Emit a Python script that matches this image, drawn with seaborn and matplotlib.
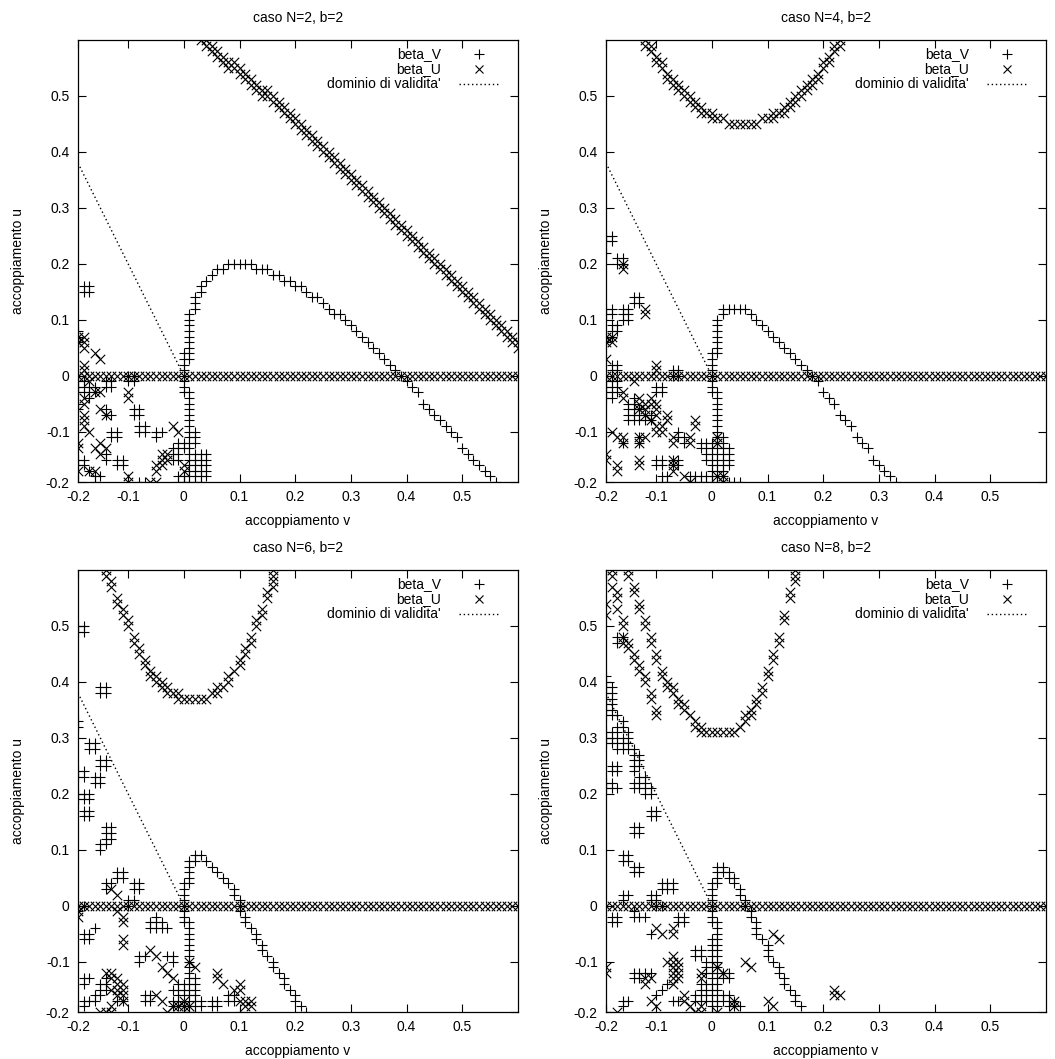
import matplotlib
matplotlib.use("Agg")
import matplotlib.pyplot as plt
import seaborn as sns
import pandas as pd

# ---------------- data (v = accoppiamento v, u = accoppiamento u) ----------------
TITLES = ["caso N=2, b=2", "caso N=4, b=2", "caso N=6, b=2", "caso N=8, b=2"]
XTICKS = [-0.19, -0.1, 0.0, 0.1, 0.2, 0.3, 0.4, 0.5]
TICKLABELS = ["-0.2", "-0.1", "0", "0.1", "0.2", "0.3", "0.4", "0.5"]
DOMAIN_V = [-0.19, -0.005]
DOMAIN_U = [0.38, 0.01]

ZERO_V = [-0.19, -0.18, -0.17, -0.16, -0.15, -0.14, -0.13, -0.12, -0.11, -0.10,
          -0.09, -0.08, -0.07, -0.06, -0.05, -0.04, -0.03, -0.02, -0.01, 0.00,
          0.01, 0.02, 0.03, 0.04, 0.05, 0.06, 0.07, 0.08, 0.09, 0.10,
          0.11, 0.12, 0.13, 0.14, 0.15, 0.16, 0.17, 0.18, 0.19, 0.20,
          0.21, 0.22, 0.23, 0.24, 0.25, 0.26, 0.27, 0.28, 0.29, 0.30,
          0.31, 0.32, 0.33, 0.34, 0.35, 0.36, 0.37, 0.38, 0.39, 0.40,
          0.41, 0.42, 0.43, 0.44, 0.45, 0.46, 0.47, 0.48, 0.49, 0.50,
          0.51, 0.52, 0.53, 0.54, 0.55, 0.56, 0.57, 0.58, 0.59, 0.60]

# ---- panel 1 (N=2) ----
P1_V = {
    -0.19: [0.08, 0.07, 0.06, 0.00, -0.01, -0.02, -0.03, -0.05, -0.06, -0.15, -0.16],
    -0.18: [0.16, 0.15, -0.01, -0.02, -0.03, -0.15, -0.16],
    -0.17: [0.16, 0.15, -0.02, -0.03, -0.04, -0.17],
    -0.16: [-0.02, -0.03, -0.18, -0.19],
    -0.15: [-0.18],
    -0.14: [-0.01, -0.02, -0.06, -0.07, -0.14, -0.15],
    -0.13: [-0.01, -0.02, -0.07, -0.10, -0.11],
    -0.12: [-0.10, -0.11, -0.15, -0.16],
    -0.11: [-0.15, -0.16],
    -0.10: [0.00, -0.01],
    -0.09: [0.00, -0.01, -0.06, -0.07],
    -0.08: [-0.06, -0.07, -0.09, -0.10, -0.19],
    -0.07: [-0.09, -0.10, -0.19],
    -0.05: [-0.10, -0.11],
    -0.04: [-0.10],
    -0.02: [-0.13, -0.14, -0.15],
    -0.01: [-0.12, -0.13, -0.14, -0.15, -0.18, -0.19],
    0.00: [0.04, 0.03, 0.02, 0.01, 0.00, -0.01, -0.02, -0.03, -0.12, -0.13, -0.18, -0.19],
    0.01: [0.11, 0.10, 0.09, 0.08, 0.07, 0.06, 0.05, 0.04, 0.03, -0.03, -0.04, -0.05,
           -0.06, -0.07, -0.08, -0.09, -0.10, -0.11, -0.12, -0.13, -0.14, -0.15,
           -0.16, -0.17, -0.18, -0.19],
    0.02: [0.14, 0.13, 0.12, -0.10, -0.11, -0.12, -0.14, -0.15, -0.16, -0.17, -0.18, -0.19],
    0.03: [0.16, 0.15, -0.14, -0.15, -0.16, -0.17, -0.18, -0.19],
    0.04: [0.17, -0.14, -0.15, -0.16, -0.17, -0.18],
    0.05: [0.18], 0.06: [0.19], 0.07: [0.19], 0.08: [0.20], 0.09: [0.20],
    0.10: [0.20], 0.11: [0.20], 0.12: [0.20], 0.13: [0.19], 0.14: [0.19],
    0.15: [0.19], 0.16: [0.18], 0.17: [0.18], 0.18: [0.17], 0.19: [0.17],
    0.20: [0.16], 0.21: [0.16], 0.22: [0.15], 0.23: [0.14], 0.24: [0.14],
    0.25: [0.13], 0.26: [0.12], 0.27: [0.11], 0.28: [0.11], 0.29: [0.10],
    0.30: [0.09], 0.31: [0.08], 0.32: [0.07], 0.33: [0.06], 0.34: [0.05],
    0.35: [0.04], 0.36: [0.03], 0.37: [0.02], 0.38: [0.01], 0.39: [0.00],
    0.40: [-0.01], 0.41: [-0.02], 0.42: [-0.03], 0.43: [-0.05], 0.44: [-0.06],
    0.45: [-0.07], 0.46: [-0.08], 0.47: [-0.09], 0.48: [-0.10], 0.49: [-0.11],
    0.50: [-0.13], 0.51: [-0.14], 0.52: [-0.15], 0.53: [-0.16], 0.54: [-0.17],
    0.55: [-0.18], 0.56: [-0.19],
}
P1_U_CURVE = {
    0.03: [0.60], 0.04: [0.60, 0.59], 0.05: [0.59, 0.58], 0.06: [0.58, 0.57],
    0.07: [0.57, 0.56], 0.08: [0.56, 0.55], 0.09: [0.56, 0.55], 0.10: [0.55, 0.54],
    0.11: [0.54, 0.53], 0.12: [0.53, 0.52], 0.13: [0.52, 0.51], 0.14: [0.51, 0.50],
    0.15: [0.51, 0.50], 0.16: [0.50, 0.49], 0.17: [0.49, 0.48], 0.18: [0.48, 0.47],
    0.19: [0.47, 0.46], 0.20: [0.46, 0.45], 0.21: [0.45, 0.44], 0.22: [0.44, 0.43],
    0.23: [0.43, 0.42], 0.24: [0.42, 0.41], 0.25: [0.41, 0.40], 0.26: [0.40, 0.39],
    0.27: [0.39, 0.38], 0.28: [0.38, 0.37], 0.29: [0.37, 0.36], 0.30: [0.36, 0.35],
    0.31: [0.35, 0.34], 0.32: [0.34, 0.33], 0.33: [0.33, 0.32], 0.34: [0.32, 0.31],
    0.35: [0.31, 0.30], 0.36: [0.30, 0.29], 0.37: [0.29, 0.28], 0.38: [0.28, 0.27],
    0.39: [0.27, 0.26], 0.40: [0.26, 0.25], 0.41: [0.25, 0.24], 0.42: [0.24, 0.23],
    0.43: [0.23, 0.22], 0.44: [0.22, 0.21], 0.45: [0.21, 0.20], 0.46: [0.20, 0.19],
    0.47: [0.19, 0.18], 0.48: [0.18, 0.17], 0.49: [0.17, 0.16], 0.50: [0.16, 0.15],
    0.51: [0.15, 0.14], 0.52: [0.14, 0.13], 0.53: [0.13, 0.12], 0.54: [0.12, 0.11],
    0.55: [0.11, 0.10], 0.56: [0.10, 0.09], 0.57: [0.09, 0.08], 0.58: [0.08, 0.07],
    0.59: [0.07, 0.06], 0.60: [0.06, 0.05],
}
P1_U_SCAT = {
    -0.19: [0.07, 0.06, -0.12, -0.13, -0.17],
    -0.18: [0.07, 0.06, 0.05, 0.02, 0.01, -0.04, -0.05, -0.07, -0.08, -0.09],
    -0.17: [-0.01, -0.10, -0.17],
    -0.16: [0.04, -0.03, -0.13, -0.17],
    -0.15: [0.03, -0.03, -0.06, -0.12, -0.14],
    -0.14: [-0.07, -0.13],
    -0.10: [-0.03, -0.04, -0.18, -0.19],
    -0.06: [-0.19],
    -0.05: [-0.19, -0.17, -0.16],
    -0.04: [-0.16, -0.15, -0.14],
    -0.03: [-0.14, -0.15],
    -0.02: [-0.09],
    -0.01: [-0.10],
    0.00: [-0.16, -0.17],
}

# ---- panel 2 (N=4) ----
P2_V = {
    -0.19: [0.25, 0.24, 0.22, 0.12, 0.11, 0.07, 0.06, 0.00, -0.01, -0.02, -0.03, -0.04],
    -0.18: [0.25, 0.24, 0.12, 0.11, 0.09, 0.08, 0.07, 0.02, 0.01, -0.01, -0.02, -0.03, -0.04],
    -0.17: [0.21, 0.20, 0.09, 0.08, 0.02, 0.01, -0.01, -0.02, -0.03],
    -0.16: [0.21, 0.20, 0.12, 0.11, 0.10, -0.12],
    -0.15: [0.12, 0.11, 0.10, -0.05, -0.06, -0.07, -0.08],
    -0.14: [0.14, 0.13, -0.04, -0.05, -0.06, -0.07, -0.08],
    -0.13: [0.14, 0.13, -0.06, -0.07, -0.08, -0.11, -0.12],
    -0.12: [-0.07, -0.08],
    -0.11: [-0.07, -0.08],
    -0.10: [-0.02, -0.03, -0.15, -0.16],
    -0.09: [-0.02, -0.03, -0.15, -0.16, -0.18, -0.19],
    -0.08: [-0.18, -0.19],
    -0.07: [0.01, 0.00, -0.15, -0.16],
    -0.06: [0.01, 0.00, -0.10, -0.11, -0.15, -0.16],
    -0.05: [-0.11, -0.12],
    -0.04: [-0.18, -0.19],
    -0.03: [-0.18, -0.19],
    -0.02: [-0.12, -0.13, -0.18, -0.19],
    -0.01: [-0.12, -0.13, -0.14, -0.15, -0.18, -0.19],
    0.00: [0.04, 0.03, 0.02, 0.01, 0.00, -0.01, -0.02, -0.03, -0.12, -0.13, -0.14,
           -0.15, -0.16, -0.17, -0.18, -0.19],
    0.01: [0.10, 0.09, 0.08, 0.07, 0.06, 0.05, 0.04, -0.03, -0.04, -0.05, -0.06, -0.07,
           -0.08, -0.09, -0.10, -0.11, -0.12, -0.13, -0.14, -0.15, -0.16, -0.17, -0.18, -0.19],
    0.02: [0.12, 0.11, -0.11, -0.12, -0.13, -0.14, -0.15, -0.16, -0.17, -0.18, -0.19],
    0.03: [0.12, -0.13, -0.14, -0.15, -0.16, -0.19],
    0.04: [0.12, -0.19], 0.05: [0.12, -0.19], 0.06: [0.12], 0.07: [0.11],
    0.08: [0.10], 0.09: [0.09], 0.10: [0.08], 0.11: [0.07], 0.12: [0.06],
    0.13: [0.05], 0.14: [0.04], 0.15: [0.03], 0.16: [0.02], 0.17: [0.01],
    0.18: [0.00], 0.19: [-0.01], 0.20: [-0.03], 0.21: [-0.04], 0.22: [-0.05],
    0.23: [-0.07], 0.24: [-0.08], 0.25: [-0.09], 0.26: [-0.11], 0.27: [-0.12],
    0.28: [-0.13], 0.29: [-0.15], 0.30: [-0.16], 0.31: [-0.17], 0.32: [-0.18],
    0.33: [-0.19],
}
P2_U_CURVE = {
    -0.12: [0.60, 0.59], -0.11: [0.59, 0.58], -0.10: [0.57, 0.56], -0.09: [0.56, 0.55],
    -0.08: [0.54, 0.53], -0.07: [0.53, 0.52], -0.06: [0.52, 0.51], -0.05: [0.51, 0.50],
    -0.04: [0.50, 0.49], -0.03: [0.49, 0.48], -0.02: [0.48, 0.47], -0.01: [0.47],
    0.00: [0.47, 0.46], 0.01: [0.46], 0.02: [0.46], 0.03: [0.45], 0.04: [0.45],
    0.05: [0.45], 0.06: [0.45], 0.07: [0.45], 0.08: [0.45], 0.09: [0.46],
    0.10: [0.46], 0.11: [0.47, 0.46], 0.12: [0.47], 0.13: [0.48, 0.47],
    0.14: [0.49, 0.48], 0.15: [0.50, 0.49], 0.16: [0.51, 0.50], 0.17: [0.52, 0.51],
    0.18: [0.53, 0.52], 0.19: [0.54, 0.53], 0.20: [0.56, 0.55], 0.21: [0.57, 0.56],
    0.22: [0.59, 0.58], 0.23: [0.60, 0.59],
}
P2_U_SCAT = {
    -0.19: [0.07, 0.06, 0.03, -0.14, -0.15],
    -0.18: [0.07, 0.06, -0.10],
    -0.17: [-0.11, -0.16, -0.17],
    -0.16: [0.20, 0.19, -0.03, -0.04, -0.11, -0.12],
    -0.14: [-0.01],
    -0.13: [-0.04, -0.05, -0.06, -0.11, -0.12, -0.15, -0.16],
    -0.12: [0.12, 0.11, -0.05, -0.06, -0.07, -0.11],
    -0.11: [-0.04, -0.05, -0.08],
    -0.10: [0.02, 0.01, -0.05, -0.06, -0.07, -0.09, -0.10],
    -0.09: [-0.09, -0.10],
    -0.08: [-0.07, -0.08],
    -0.07: [-0.11, -0.12, -0.15, -0.16, -0.17],
    -0.05: [-0.18],
    -0.04: [-0.11, -0.12, -0.19],
    -0.03: [-0.08, -0.09],
    0.01: [-0.11, -0.12, -0.18],
    0.02: [-0.18, -0.19],
}

# ---- panel 3 (N=6) ----
P3_V = {
    -0.19: [0.50, 0.49, 0.33, 0.32, 0.24, 0.23, 0.20, 0.19, 0.00, -0.01],
    -0.18: [0.50, 0.49, 0.24, 0.23, 0.20, 0.19, 0.17, 0.16, 0.00, -0.05, -0.06, -0.13,
            -0.14, -0.17, -0.18],
    -0.17: [0.29, 0.28, 0.20, 0.19, 0.17, 0.16, -0.05, -0.06, -0.13, -0.17],
    -0.16: [0.29, 0.28, 0.23, 0.22, -0.04, -0.16, -0.17],
    -0.15: [0.39, 0.38, 0.26, 0.25, 0.23, 0.22, 0.11, 0.10, -0.14, -0.15, -0.16],
    -0.14: [0.39, 0.38, 0.26, 0.25, 0.14, 0.13, 0.12, 0.11, 0.04, 0.03, -0.13, -0.14, -0.15],
    -0.13: [0.14, 0.13, 0.12, 0.04],
    -0.12: [0.06, 0.05, -0.17],
    -0.11: [0.06, 0.05, -0.17],
    -0.10: [0.01, 0.00],
    -0.09: [0.04, 0.03, 0.01],
    -0.08: [0.04, 0.03, -0.09, -0.10],
    -0.07: [-0.09, -0.16, -0.17],
    -0.06: [-0.03, -0.04, -0.16, -0.17],
    -0.05: [-0.02, -0.03, -0.04],
    -0.04: [-0.03, -0.04],
    -0.03: [-0.04, -0.09],
    -0.02: [-0.09, -0.10, -0.15, -0.17, -0.18],
    -0.01: [-0.14, -0.15, -0.16, -0.17, -0.18],
    0.00: [0.04, 0.03, 0.02, 0.01, 0.00, -0.01, -0.02, -0.03, -0.14, -0.15, -0.16, -0.18, -0.19],
    0.01: [0.08, 0.07, 0.06, 0.05, 0.04, -0.03, -0.04, -0.05, -0.06, -0.07, -0.08, -0.09,
           -0.10, -0.11, -0.12, -0.13, -0.14, -0.15, -0.16, -0.17, -0.18, -0.19],
    0.02: [0.09, 0.08, -0.13, -0.14, -0.15, -0.16, -0.17, -0.18, -0.19],
    0.03: [0.09, -0.17, -0.18],
    0.04: [0.08],
    0.05: [0.07, -0.17, -0.18],
    0.06: [0.06, -0.17, -0.18],
    0.07: [0.05],
    0.08: [0.04, -0.16, -0.17],
    0.09: [0.03, 0.02, -0.16, -0.17],
    0.10: [0.01, 0.00, -0.01, -0.19],
    0.11: [-0.02, -0.03], 0.12: [-0.04], 0.13: [-0.05, -0.06], 0.14: [-0.07, -0.08],
    0.15: [-0.09], 0.16: [-0.10, -0.11], 0.17: [-0.12], 0.18: [-0.13, -0.14],
    0.19: [-0.15], 0.20: [-0.16, -0.17], 0.21: [-0.18], 0.22: [-0.19],
}
P3_U_CURVE = {
    -0.14: [0.60, 0.59], -0.13: [0.58, 0.57], -0.12: [0.55, 0.54], -0.11: [0.53, 0.52],
    -0.10: [0.51, 0.50], -0.09: [0.48, 0.47], -0.08: [0.46, 0.45], -0.07: [0.44, 0.43],
    -0.06: [0.42, 0.41], -0.05: [0.41, 0.40], -0.04: [0.40, 0.39], -0.03: [0.39, 0.38],
    -0.02: [0.38], -0.01: [0.38, 0.37], 0.00: [0.37], 0.01: [0.37], 0.02: [0.37],
    0.03: [0.37], 0.04: [0.37], 0.05: [0.38], 0.06: [0.39, 0.38], 0.07: [0.39],
    0.08: [0.41, 0.40], 0.09: [0.42], 0.10: [0.44, 0.43], 0.11: [0.46, 0.45],
    0.12: [0.48, 0.47], 0.13: [0.51, 0.50], 0.14: [0.53, 0.52], 0.15: [0.56, 0.55],
    0.16: [0.60, 0.59, 0.58, 0.57],
}
P3_U_SCAT = {
    -0.19: [-0.01, -0.02],
    -0.15: [-0.19],
    -0.14: [-0.12, -0.19],
    -0.13: [0.03, -0.12, -0.13, -0.15, -0.18, -0.19],
    -0.12: [0.02, -0.01, -0.13, -0.14, -0.15, -0.16],
    -0.11: [-0.02, -0.03, -0.06, -0.07, -0.14, -0.15, -0.16, -0.17],
    -0.06: [-0.08],
    -0.05: [-0.09, -0.16],
    -0.04: [-0.11, -0.17],
    -0.03: [-0.12, -0.19],
    -0.02: [-0.13, -0.18],
    -0.01: [-0.18],
    0.00: [-0.17, -0.18],
    0.01: [-0.10, -0.18],
    0.02: [-0.11],
    0.06: [-0.12, -0.13],
    0.07: [-0.14],
    0.09: [-0.15],
    0.10: [-0.14, -0.15, -0.17],
    0.11: [-0.17, -0.18],
    0.12: [-0.17, -0.18],
}

# ---- panel 4 (N=8) ----
P4_V = {
    -0.19: [0.41, 0.40, 0.39, 0.38, 0.37, 0.36, 0.35, 0.34, 0.31, 0.30, 0.29, 0.22, 0.21, -0.19],
    -0.18: [0.39, 0.38, 0.37, 0.36, 0.35, 0.34, 0.31, 0.30, 0.29, 0.25, 0.24, 0.22, 0.21,
            -0.02, -0.03],
    -0.17: [0.48, 0.47, 0.34, 0.32, 0.31, 0.30, 0.29, 0.28, 0.25, 0.24, 0.21, -0.02, -0.03],
    -0.16: [0.48, 0.33, 0.32, 0.30, 0.29, 0.28, 0.09, 0.08, 0.02, 0.01, -0.17, -0.18],
    -0.15: [0.31, 0.30, 0.29, 0.28, 0.09, 0.08, 0.02, -0.17],
    -0.14: [0.28, 0.27, 0.26, 0.25, 0.24, 0.22, 0.21, 0.14, 0.13, 0.07, 0.06, -0.01, -0.02,
            -0.12, -0.13],
    -0.13: [0.27, 0.26, 0.25, 0.23, 0.22, 0.21, 0.14, 0.13, 0.07, 0.06, -0.02, -0.12, -0.13],
    -0.12: [0.23, 0.22, 0.21, 0.20, -0.02, -0.12],
    -0.11: [0.21, 0.20, 0.17, 0.16, 0.02, 0.01, -0.05, -0.12],
    -0.10: [0.17, 0.16, 0.02, 0.01, 0.00, -0.16],
    -0.09: [0.04, 0.03, 0.00, -0.15],
    -0.08: [0.04, 0.03, -0.14],
    -0.07: [0.04, 0.03, -0.17],
    -0.06: [-0.02, -0.03, -0.17],
    -0.05: [-0.02, -0.03],
    -0.03: [-0.08, -0.09, -0.16, -0.17],
    -0.02: [-0.08, -0.09, -0.14, -0.15, -0.16, -0.17],
    -0.01: [-0.10, -0.11, -0.12, -0.14, -0.15, -0.16, -0.17],
    0.00: [0.04, 0.03, 0.02, 0.01, 0.00, -0.01, -0.02, -0.03, -0.06, -0.07, -0.08, -0.09,
           -0.10, -0.11, -0.12, -0.13, -0.14, -0.15, -0.16, -0.17, -0.18, -0.19],
    0.01: [0.07, 0.06, 0.05, 0.04, -0.03, -0.04, -0.05, -0.06, -0.07, -0.08, -0.09, -0.10,
           -0.11, -0.12, -0.13, -0.14, -0.15, -0.16, -0.17, -0.18],
    0.02: [0.07, 0.06, -0.12, -0.13, -0.16, -0.17],
    0.03: [0.06, 0.05, -0.12, -0.13, -0.16, -0.17, -0.18],
    0.04: [0.05, 0.04, -0.17, -0.18],
    0.05: [0.03, 0.02, -0.18],
    0.06: [0.01, 0.00], 0.07: [-0.01, -0.02], 0.08: [-0.03, -0.04, -0.05],
    0.09: [-0.06], 0.10: [-0.07, -0.08, -0.09], 0.11: [-0.10], 0.12: [-0.11, -0.12],
    0.13: [-0.13, -0.14], 0.14: [-0.15], 0.15: [-0.16, -0.17], 0.16: [-0.18],
}
P4_U_CURVE = {
    -0.15: [0.60, 0.59], -0.14: [0.57, 0.56], -0.13: [0.54, 0.53], -0.12: [0.51, 0.50],
    -0.11: [0.48, 0.47], -0.10: [0.45, 0.44], -0.09: [0.42, 0.41], -0.08: [0.40, 0.39],
    -0.07: [0.39, 0.38], -0.06: [0.37, 0.36], -0.05: [0.36, 0.35], -0.04: [0.34],
    -0.03: [0.33, 0.32], -0.02: [0.32, 0.31], -0.01: [0.31], 0.00: [0.31], 0.01: [0.31],
    0.02: [0.31], 0.03: [0.31], 0.04: [0.31], 0.05: [0.32], 0.06: [0.34, 0.33],
    0.07: [0.35, 0.34], 0.08: [0.37, 0.36], 0.09: [0.39, 0.38], 0.10: [0.42, 0.41],
    0.11: [0.45, 0.44], 0.12: [0.48, 0.47], 0.13: [0.52, 0.51], 0.14: [0.56, 0.55],
    0.15: [0.60, 0.59, 0.58],
}
P4_U_SCAT = {
    -0.19: [0.54, 0.52, -0.11, -0.12],
    -0.18: [0.60, 0.59, 0.57],
    -0.17: [0.56, 0.55, 0.53, -0.19],
    -0.16: [0.51, 0.50, 0.48, 0.47],
    -0.15: [0.47, 0.46],
    -0.14: [0.45, 0.44],
    -0.13: [0.43, 0.42],
    -0.12: [0.41, 0.40, -0.13, -0.14],
    -0.11: [0.38, 0.37, -0.13, -0.17],
    -0.10: [0.35, 0.34, -0.04, -0.18],
    -0.09: [-0.05],
    -0.08: [-0.10],
    -0.07: [-0.04, -0.05, -0.09, -0.10, -0.11, -0.12, -0.13, -0.14],
    -0.06: [-0.10, -0.11, -0.12, -0.13],
    -0.05: [-0.16, -0.17],
    -0.04: [-0.18],
    -0.03: [-0.19],
    -0.02: [-0.12, -0.13, -0.18, -0.19],
    0.01: [-0.11, -0.19],
    0.02: [-0.12],
    0.04: [-0.17, -0.18],
    0.06: [-0.10],
    0.07: [-0.11],
    0.10: [-0.17],
    0.11: [-0.05, -0.18],
    0.12: [-0.06],
    0.22: [-0.15, -0.16],
    0.23: [-0.16],
}

PANELS = [
    (P1_V, [P1_U_CURVE, P1_U_SCAT]),
    (P2_V, [P2_U_CURVE, P2_U_SCAT]),
    (P3_V, [P3_U_CURVE, P3_U_SCAT]),
    (P4_V, [P4_U_CURVE, P4_U_SCAT]),
]


def to_frame(dicts):
    rows = [(v, u) for d in dicts for v, us in d.items() for u in us]
    return pd.DataFrame(rows, columns=["v", "u"])


# ---------------- style ----------------
sns.set_style("ticks")
plt.rcParams["font.family"] = ["Liberation Sans", "DejaVu Sans"]
FS = 10
INK = "#000000"

fig = plt.figure(figsize=(10.55, 10.59), dpi=100)
W, H = 1055.0, 1059.0
# axes frames in pixels: (left, top, right, bottom)
FRAMES = [(78, 40, 518, 482), (606, 40, 1046, 482),
          (78, 570, 518, 1012), (606, 570, 1046, 1012)]

for i, (frame, (dv, du_list)) in enumerate(zip(FRAMES, PANELS)):
    l, t, r, b = frame
    ax = fig.add_axes([l / W, 1 - b / H, (r - l) / W, (b - t) / H])
    zero = pd.DataFrame({"v": ZERO_V, "u": [0.0] * len(ZERO_V)})
    df_u = pd.concat([to_frame(du_list), zero], ignore_index=True)
    df_v = to_frame([dv])

    sns.scatterplot(data=df_v, x="v", y="u", marker="+", s=55, color=INK,
                    linewidth=0.8, ax=ax, legend=False, zorder=3)
    sns.scatterplot(data=df_u, x="v", y="u", marker="x", s=46, color=INK,
                    linewidth=0.8, ax=ax, legend=False, zorder=3)
    ax.plot(DOMAIN_V, DOMAIN_U, color=INK, lw=1.0, linestyle=(0, (1, 2)), zorder=2)

    ax.set_xlim(-0.19, 0.6)
    ax.set_ylim(-0.19, 0.6)
    ax.set_xticks(XTICKS)
    ax.set_xticklabels(TICKLABELS)
    ax.set_yticks(XTICKS)
    ax.set_yticklabels(TICKLABELS)
    ax.tick_params(direction="in", top=True, right=True, length=5.5, width=0.8,
                   labelsize=FS, colors=INK, pad=6)
    for sp in ax.spines.values():
        sp.set_visible(True)
        sp.set_linewidth(0.9)
        sp.set_color(INK)

    ax.set_xlabel("accoppiamento v", fontsize=FS, color=INK)
    ax.set_ylabel("accoppiamento u", fontsize=FS, color=INK)
    ax.xaxis.set_label_coords(0.5, -0.072)
    ax.yaxis.set_label_coords(-0.12, 0.5)
    ax.text(0.5, 1.05, TITLES[i], transform=ax.transAxes, ha="center", va="center",
            fontsize=FS, color=INK)

    # legend (gnuplot style: right-justified text, sample on the right)
    ax.text(0.825, 0.968, "beta_V", transform=ax.transAxes, ha="right", va="center",
            fontsize=FS, color=INK)
    ax.text(0.825, 0.934, "beta_U", transform=ax.transAxes, ha="right", va="center",
            fontsize=FS, color=INK)
    ax.text(0.825, 0.900, "dominio di validita'", transform=ax.transAxes, ha="right",
            va="center", fontsize=FS, color=INK)
    ax.plot([0.912], [0.968], marker="+", ms=6.5, mew=0.8, color=INK,
            transform=ax.transAxes, clip_on=False)
    ax.plot([0.912], [0.934], marker="x", ms=6.0, mew=0.8, color=INK,
            transform=ax.transAxes, clip_on=False)
    ax.plot([0.866, 0.955], [0.900, 0.900], color=INK, lw=1.0, linestyle=(0, (1, 2)),
            transform=ax.transAxes, clip_on=False)

fig.savefig("out.png", dpi=100)
